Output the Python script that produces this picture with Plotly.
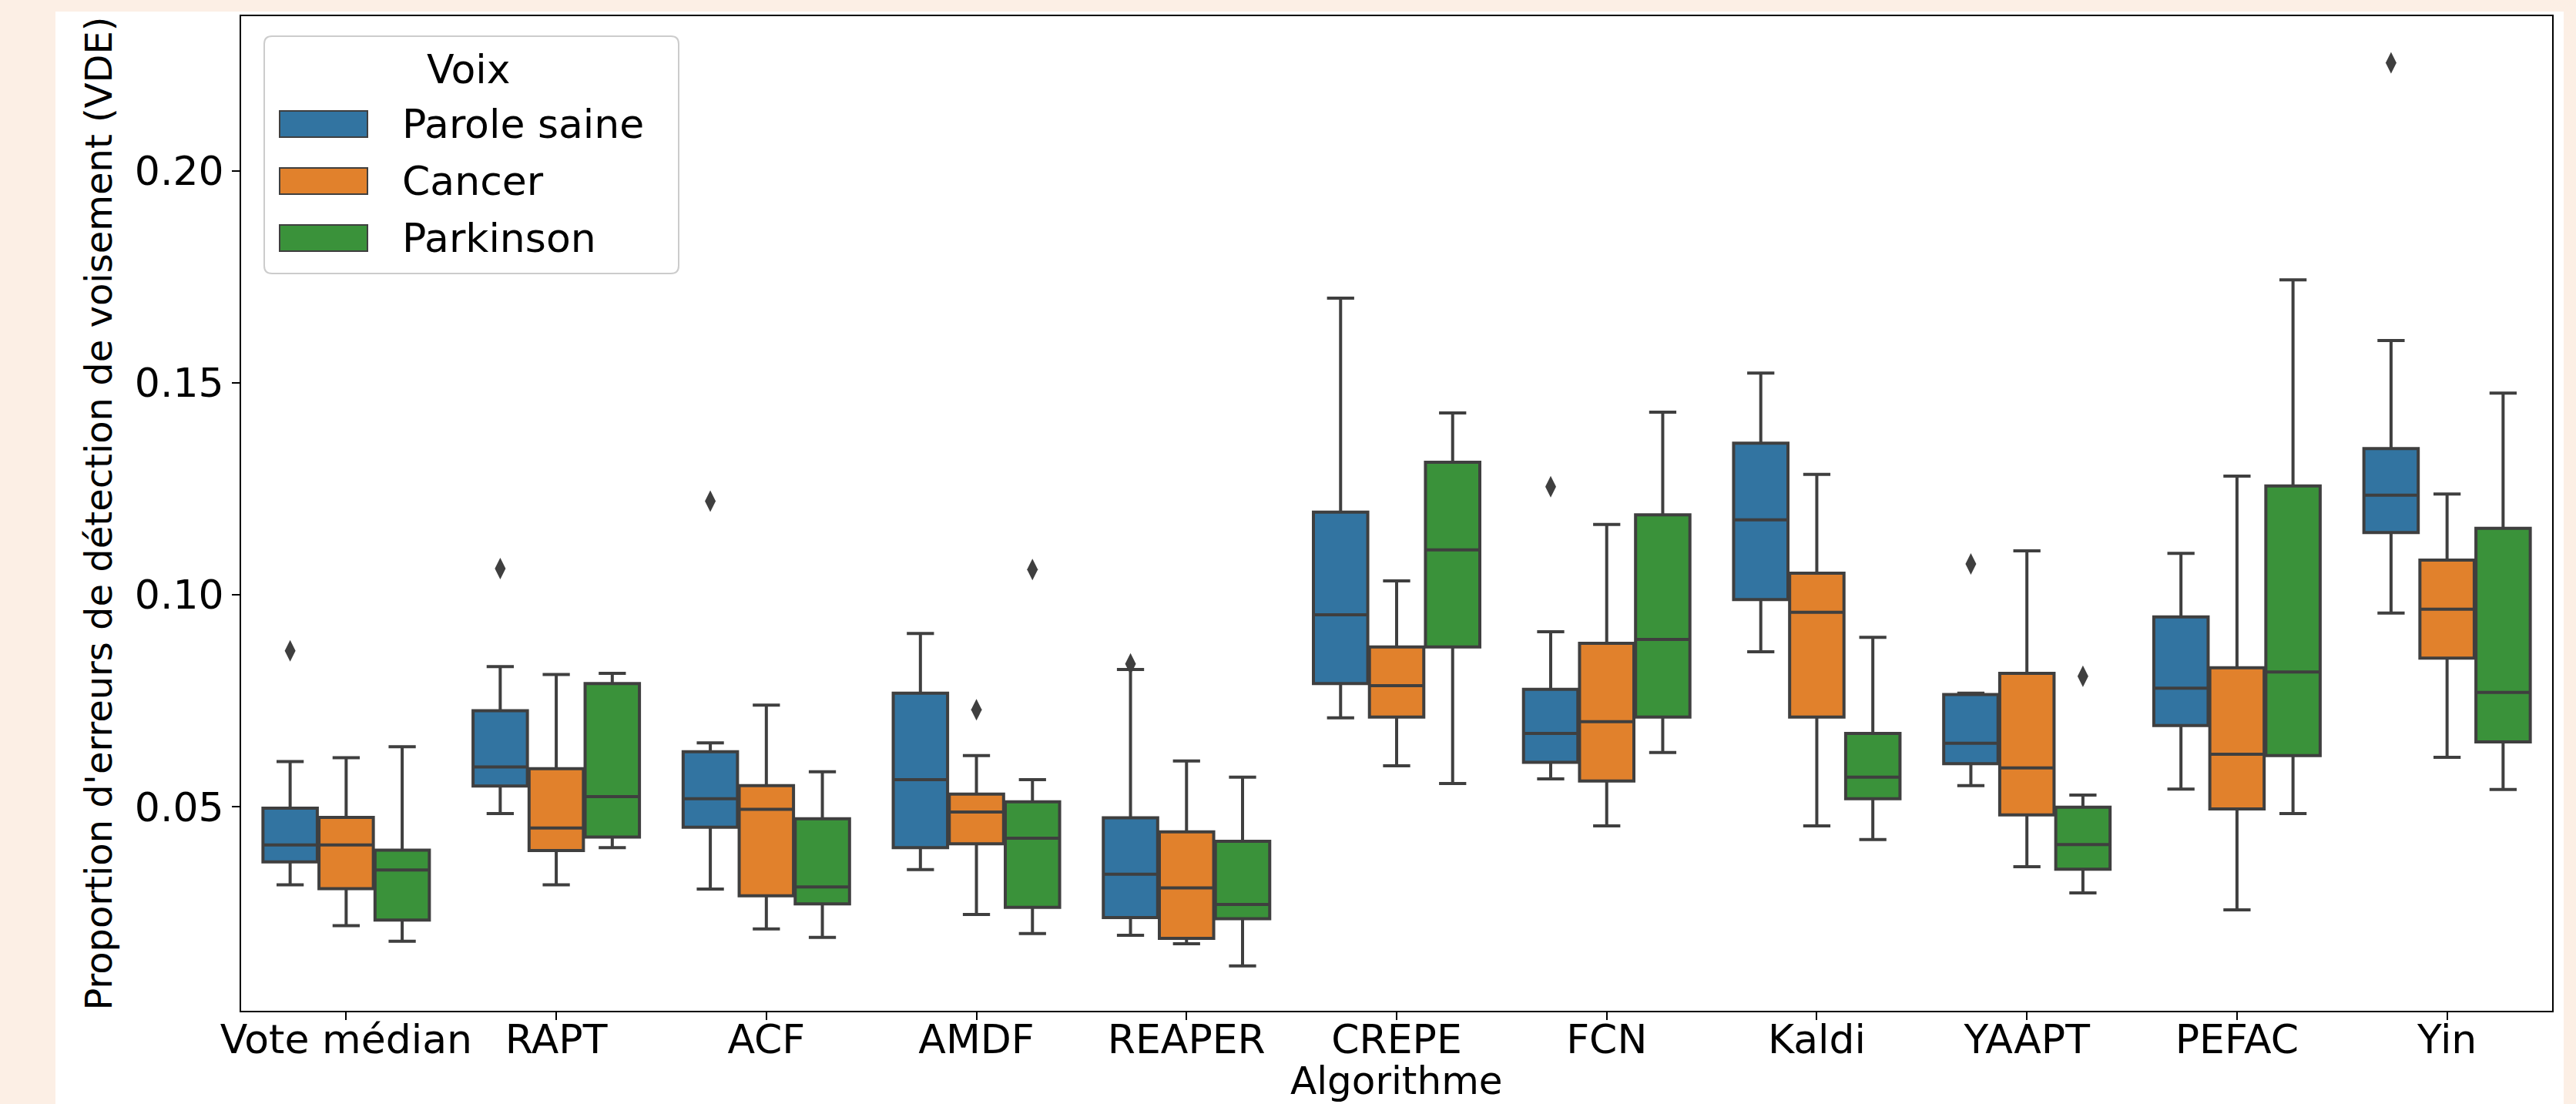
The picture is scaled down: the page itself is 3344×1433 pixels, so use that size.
import plotly.graph_objects as go

# ---------------- data ----------------
categories = ["Vote médian", "RAPT", "ACF", "AMDF", "REAPER", "CREPE",
              "FCN", "Kaldi", "YAAPT", "PEFAC", "Yin"]
groups = ["Parole saine", "Cancer", "Parkinson"]

# Parole saine
saine_low = [0.0316, 0.0484, 0.0306, 0.0352, 0.0197, 0.0710, 0.0566, 0.0866, 0.0550, 0.0542, 0.0957]
saine_q1 = [0.0370, 0.0549, 0.0452, 0.0404, 0.0239, 0.0791, 0.0605, 0.0989, 0.0602, 0.0692, 0.1147]
saine_med = [0.0410, 0.0594, 0.0519, 0.0564, 0.0341, 0.0953, 0.0673, 0.1177, 0.0650, 0.0780, 0.1235]
saine_q3 = [0.0497, 0.0727, 0.0630, 0.0768, 0.0474, 0.1195, 0.0777, 0.1358, 0.0765, 0.0948, 0.1345]
saine_up = [0.0607, 0.0831, 0.0651, 0.0909, 0.0824, 0.1700, 0.0913, 0.1523, 0.0768, 0.1098, 0.1600]
saine_out_x = ["Vote médian", "RAPT", "ACF", "REAPER", "FCN", "YAAPT", "Yin"]
saine_out_y = [0.0868, 0.1062, 0.1221, 0.0837, 0.1255, 0.1073, 0.2255]

# Cancer
cancer_low = [0.0220, 0.0316, 0.0212, 0.0246, 0.0177, 0.0597, 0.0455, 0.0455, 0.0359, 0.0257, 0.0617]
cancer_q1 = [0.0307, 0.0397, 0.0290, 0.0413, 0.0190, 0.0712, 0.0561, 0.0712, 0.0481, 0.0495, 0.0851]
cancer_med = [0.0410, 0.0450, 0.0494, 0.0488, 0.0309, 0.0786, 0.0701, 0.0959, 0.0592, 0.0624, 0.0966]
cancer_q3 = [0.0475, 0.0590, 0.0550, 0.0530, 0.0441, 0.0877, 0.0886, 0.1051, 0.0815, 0.0828, 0.1082]
cancer_up = [0.0616, 0.0812, 0.0740, 0.0621, 0.0608, 0.1033, 0.1166, 0.1284, 0.1104, 0.1280, 0.1238]
cancer_out_x = ["AMDF"]
cancer_out_y = [0.0729]

# Parkinson
park_low = [0.0183, 0.0404, 0.0192, 0.0201, 0.0125, 0.0555, 0.0628, 0.0423, 0.0297, 0.0484, 0.0541]
park_q1 = [0.0233, 0.0429, 0.0271, 0.0263, 0.0236, 0.0877, 0.0712, 0.0519, 0.0353, 0.0621, 0.0653]
park_med = [0.0351, 0.0524, 0.0311, 0.0426, 0.0270, 0.1106, 0.0895, 0.0570, 0.0411, 0.0818, 0.0770]
park_q3 = [0.0398, 0.0791, 0.0472, 0.0512, 0.0419, 0.1313, 0.1189, 0.0673, 0.0499, 0.1257, 0.1157]
park_up = [0.0642, 0.0815, 0.0583, 0.0564, 0.0570, 0.1429, 0.1431, 0.0900, 0.0528, 0.1743, 0.1476]
park_out_x = ["AMDF", "YAAPT"]
park_out_y = [0.1060, 0.0808]

y_ticks = [0.05, 0.10, 0.15, 0.20]

# ---------------- styling ----------------
colors = ["#3274A1", "#E1812C", "#3A923A"]
edge = "#3F3F3F"
peach = "#FCEFE5"
FONT = "DejaVu Sans"

W_FIG, H_FIG = 3344, 1433
L, R, T, B = 313, 3313, 21, 1312
PW, PH = R - L, B - T

def px(x):
    return (x - L) / PW

def py(y):
    return (B - y) / PH

stats = [
    (saine_low, saine_q1, saine_med, saine_q3, saine_up, saine_out_x, saine_out_y),
    (cancer_low, cancer_q1, cancer_med, cancer_q3, cancer_up, cancer_out_x, cancer_out_y),
    (park_low, park_q1, park_med, park_q3, park_up, park_out_x, park_out_y),
]

fig = go.Figure()
for name, col, (lo, q1, md, q3, up, ox, oy) in zip(groups, colors, stats):
    fig.add_trace(go.Box(
        name=name, x=categories, lowerfence=lo, q1=q1, median=md, q3=q3, upperfence=up,
        fillcolor=col, line=dict(color=edge, width=4), whiskerwidth=0.5,
        boxpoints=False, showlegend=False, offsetgroup=name,
    ))
for name, col, (lo, q1, md, q3, up, ox, oy) in zip(groups, colors, stats):
    fig.add_trace(go.Scatter(
        name=name + " outliers", x=ox, y=oy, mode="markers",
        marker=dict(symbol="diamond-tall", size=20, color=edge, line=dict(width=0)),
        showlegend=False, offsetgroup=name,
    ))

# background: peach page with white figure area
shapes = [dict(type="rect", xref="paper", yref="paper", layer="below",
               x0=px(72), x1=px(3328), y0=py(1440), y1=py(15),
               fillcolor="white", line=dict(width=0))]

# manual legend (matplotlib style)
lx0, lx1, ly0, ly1 = 343, 881, 47, 355
r = 10
def corner_path(x0, x1, y0, y1, r):
    rx, ry = r / PW, r / PH
    X0, X1, Y0, Y1 = px(x0), px(x1), py(y1), py(y0)
    return (f"M {X0+rx},{Y0} L {X1-rx},{Y0} Q {X1},{Y0} {X1},{Y0+ry} "
            f"L {X1},{Y1-ry} Q {X1},{Y1} {X1-rx},{Y1} L {X0+rx},{Y1} "
            f"Q {X0},{Y1} {X0},{Y1-ry} L {X0},{Y0+ry} Q {X0},{Y0} {X0+rx},{Y0} Z")
shapes.append(dict(type="path", xref="paper", yref="paper", layer="above",
                   path=corner_path(lx0, lx1, ly0, ly1, r),
                   fillcolor="rgba(255,255,255,0.8)", line=dict(color="#CCCCCC", width=2)))

annotations = [dict(text="Voix", xref="paper", yref="paper", x=px(608), y=py(90),
                    xanchor="center", yanchor="middle", showarrow=False,
                    font=dict(family=FONT, size=52, color="black"))]
entry_y = [161, 235, 309]
for name, col, ey in zip(groups, colors, entry_y):
    shapes.append(dict(type="rect", xref="paper", yref="paper", layer="above",
                       x0=px(363), x1=px(477), y0=py(ey + 17), y1=py(ey - 17),
                       fillcolor=col, line=dict(color=edge, width=2)))
    annotations.append(dict(text=name, xref="paper", yref="paper", x=px(520), y=py(ey),
                            xanchor="left", yanchor="middle", showarrow=False,
                            font=dict(family=FONT, size=52, color="black")))

# x-axis title placed like matplotlib's (at the bottom edge)
annotations.append(dict(text="Algorithme", xref="paper", yref="paper", x=0.5, y=py(1433),
                        xanchor="center", yanchor="bottom", showarrow=False, borderpad=0,
                        font=dict(family=FONT, size=50, color="black")))

fig.update_layout(
    width=W_FIG, height=H_FIG,
    margin=dict(l=L, r=W_FIG - R, t=T, b=H_FIG - B, pad=0),
    paper_bgcolor=peach, plot_bgcolor="white",
    boxmode="group", boxgap=0.2, boxgroupgap=0.03,
    scattermode="group", scattergap=0.2,
    font=dict(family=FONT, size=52, color="black"),
    shapes=shapes, annotations=annotations,
    showlegend=False,
)
fig.update_xaxes(
    type="category", categoryorder="array", categoryarray=categories,
    showline=True, linecolor="black", linewidth=2, mirror=True,
    ticks="outside", ticklen=10, tickwidth=2, tickcolor="black",
    ticklabelstandoff=-19,
    showgrid=False, zeroline=False,
    tickfont=dict(family=FONT, size=52, color="black"),
    automargin=False,
)
fig.update_yaxes(
    range=[0.0019, 0.2365], tickvals=y_ticks, tickformat=".2f",
    showline=True, linecolor="black", linewidth=2, mirror=True,
    ticks="outside", ticklen=10, tickwidth=2, tickcolor="black",
    showgrid=False, zeroline=False,
    tickfont=dict(family=FONT, size=52, color="black"),
    title=dict(text="Proportion d'erreurs de détection de voisement (VDE)",
               font=dict(family=FONT, size=48, color="black"), standoff=14),
    automargin=False,
)

fig.write_html(
    "out.html",
    config={"displayModeBar": False},
    post_script="document.body.style.margin='0';document.body.style.overflow='hidden';"
                "document.body.style.background='" + peach + "';",
)
